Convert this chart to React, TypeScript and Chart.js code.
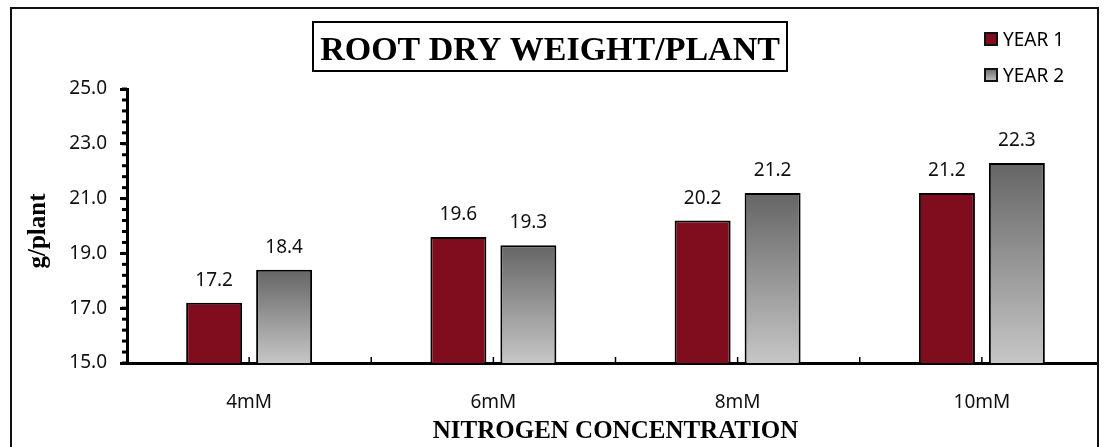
import React, { useEffect, useRef } from "react";
import { Chart, registerables } from "chart.js";

Chart.register(...registerables);

const categories = ["4mM", "6mM", "8mM", "10mM"];
const year1 = [17.2, 19.6, 20.2, 21.2];
const year2 = [18.4, 19.3, 21.2, 22.3];
const seriesNames = ["YEAR 1", "YEAR 2"];
const yMin = 15;
const yMax = 25;
const yMajorStep = 2;
const yMinorStep = 0.4;
const chartTitle = "ROOT DRY WEIGHT/PLANT";
const xTitle = "NITROGEN CONCENTRATION";
const yTitle = "g/plant";

const RED = "#7f0d1d";
const SANS = "'Noto Sans', sans-serif";
const SERIF = "'Liberation Serif', 'Times New Roman', serif";

function grayGradient(ctx: CanvasRenderingContext2D, top: number, bottom: number) {
  const g = ctx.createLinearGradient(0, top, 0, bottom);
  g.addColorStop(0, "#656565");
  g.addColorStop(1, "#c6c6c6");
  return g;
}

const decorPlugin = {
  id: "decor",
  afterDatasetsDraw(chart: any) {
    const ctx: CanvasRenderingContext2D = chart.ctx;
    const ys = chart.scales.y;
    const xs = chart.scales.x;
    const area = chart.chartArea;
    ctx.save();
    // minor y ticks
    ctx.fillStyle = "#000";
    const nMinor = Math.round((yMax - yMin) / yMinorStep);
    for (let k = 0; k <= nMinor; k++) {
      const v = yMin + k * yMinorStep;
      const py = ys.getPixelForValue(v);
      ctx.fillRect(area.left - 5, py - 1.5, 5, 3);
    }
    // x inner ticks at half-category steps
    const n = categories.length;
    ctx.strokeStyle = "#000";
    ctx.lineWidth = 1.5;
    for (let i = 0; i < n; i++) {
      const c = xs.getPixelForValue(i);
      const half = (xs.getPixelForValue(1) - xs.getPixelForValue(0)) / 2;
      [c, c + half].forEach((px) => {
        ctx.beginPath();
        ctx.moveTo(px, area.bottom);
        ctx.lineTo(px, area.bottom - 6);
        ctx.stroke();
      });
    }
    // data labels
    ctx.font = `19px ${SANS}`;
    ctx.fillStyle = "#111";
    ctx.textAlign = "center";
    ctx.textBaseline = "alphabetic";
    chart.data.datasets.forEach((ds: any, di: number) => {
      const meta = chart.getDatasetMeta(di);
      meta.data.forEach((bar: any, i: number) => {
        ctx.fillText(ds.data[i].toFixed(1), bar.x, bar.y - 17);
      });
    });
    ctx.restore();
  },
  afterDraw(chart: any) {
    const ctx: CanvasRenderingContext2D = chart.ctx;
    const area = chart.chartArea;
    ctx.save();
    // title box
    ctx.fillStyle = "#fff";
    ctx.fillRect(313, 22, 474, 49);
    ctx.strokeStyle = "#000";
    ctx.lineWidth = 2;
    ctx.strokeRect(313, 22, 474, 49);
    ctx.fillStyle = "#000";
    ctx.font = `bold 34px ${SERIF}`;
    ctx.textAlign = "center";
    ctx.textBaseline = "alphabetic";
    ctx.fillText(chartTitle, 550, 60);
    // axis titles
    ctx.font = `bold 25px ${SERIF}`;
    ctx.textBaseline = "middle";
    ctx.fillText(xTitle, (area.left + area.right) / 2, 432);
    ctx.save();
    ctx.translate(38.5, (area.top + area.bottom) / 2 + 5);
    ctx.rotate(-Math.PI / 2);
    ctx.fillText(yTitle, 0, 0);
    ctx.restore();
    // legend
    const rows = [
      { y: 32, fill: RED as any },
      { y: 68, fill: grayGradient(ctx, 68, 82) as any },
    ];
    ctx.font = `19px ${SANS}`;
    ctx.textAlign = "left";
    ctx.textBaseline = "alphabetic";
    rows.forEach((r, i) => {
      ctx.fillStyle = r.fill;
      ctx.fillRect(985, r.y + 1, 12, 12);
      ctx.strokeStyle = "#111";
      ctx.lineWidth = 2;
      ctx.strokeRect(985, r.y + 1, 12, 12);
      ctx.fillStyle = "#000";
      ctx.fillText(seriesNames[i], 1003, r.y + 14);
    });
    ctx.restore();
  },
};

export default function App() {
  const ref = useRef<HTMLCanvasElement>(null);
  useEffect(() => {
    if (!ref.current) return;
    const chart = new Chart(ref.current, {
      type: "bar",
      data: {
        labels: categories,
        datasets: [
          {
            label: seriesNames[0],
            data: year1,
            backgroundColor: RED,
            borderColor: "#000",
            borderWidth: 2,
            categoryPercentage: 0.573,
            barPercentage: 0.8,
          },
          {
            label: seriesNames[1],
            data: year2,
            backgroundColor: (c: any) => {
              const chart = c.chart;
              if (!chart.chartArea || c.type !== "data") return "#999";
              const ys = chart.scales.y;
              return grayGradient(chart.ctx, ys.getPixelForValue(c.raw), ys.getPixelForValue(yMin));
            },
            borderColor: "#000",
            borderWidth: 2,
            categoryPercentage: 0.573,
            barPercentage: 0.8,
          },
        ],
      },
      options: {
        responsive: false,
        animation: false,
        devicePixelRatio: 1,
        layout: { padding: { left: 0, top: 89, right: 16, bottom: 0 } },
        plugins: {
          legend: { display: false },
          title: { display: false },
          tooltip: { enabled: false },
        },
        scales: {
          x: {
            afterFit: (s: any) => {
              s.height = 84;
            },
            grid: { display: false, drawTicks: false },
            border: { display: true, color: "#000", width: 3 },
            ticks: { color: "#111", font: { family: SANS, size: 19 }, padding: 28 },
          },
          y: {
            min: yMin,
            max: yMax,
            afterFit: (s: any) => {
              s.width = 127;
            },
            grid: {
              display: true,
              drawOnChartArea: false,
              drawTicks: true,
              tickLength: 7,
              tickWidth: 3,
              tickColor: "#000",
            },
            border: { display: true, color: "#000", width: 3 },
            ticks: {
              stepSize: yMajorStep,
              color: "#111",
              padding: 13,
              font: { family: SANS, size: 19 },
              callback: (v: any) => Number(v).toFixed(1),
            },
          },
        },
      },
      plugins: [decorPlugin],
    });
    return () => chart.destroy();
  }, []);

  return (
    <div
      style={{
        position: "absolute",
        left: 10,
        top: 7,
        width: 1085,
        height: 438,
        border: "2px solid #111",
        borderBottom: "none",
        overflow: "hidden",
        background: "#fff",
      }}
    >
      <canvas
        ref={ref}
        width={1120}
        height={447}
        style={{ position: "absolute", left: -12, top: -9, width: 1120, height: 447 }}
      />
    </div>
  );
}
